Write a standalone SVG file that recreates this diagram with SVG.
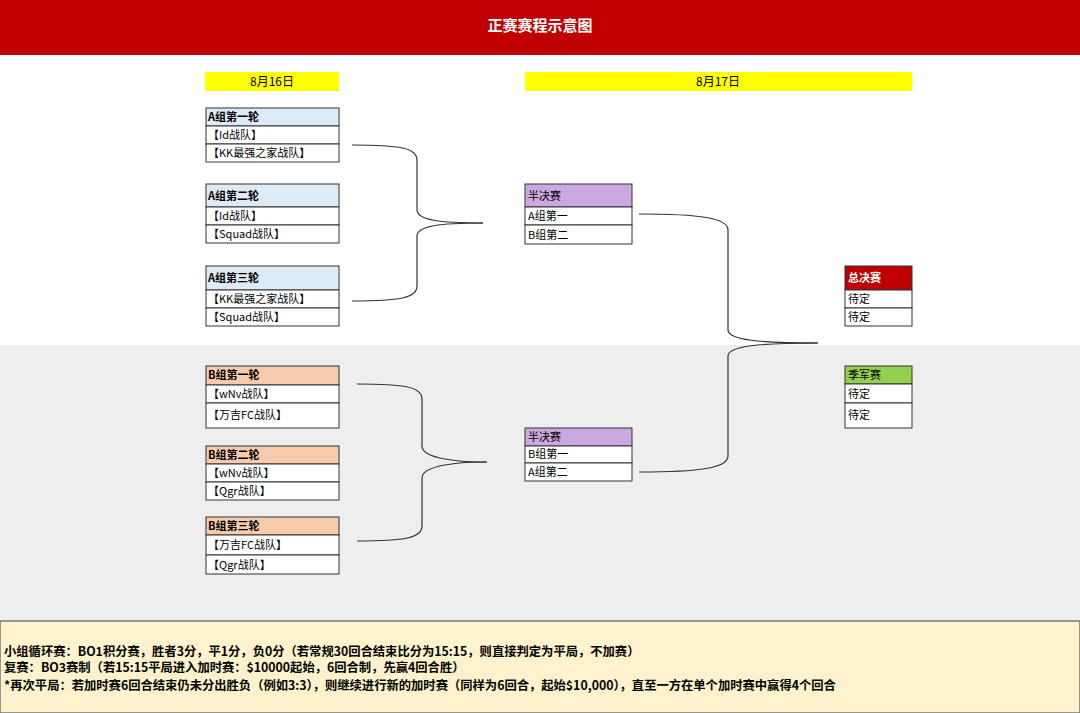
<svg xmlns="http://www.w3.org/2000/svg" width="1080" height="713" viewBox="0 0 1080 713">
<style>
text{font-family:"Microsoft YaHei","Noto Sans CJK SC",sans-serif;font-size:11px;fill:#000}
.box{stroke:#333;stroke-width:1}
.row{fill:#fff;stroke:#333;stroke-width:1}
.b{font-weight:bold}
.con{fill:none;stroke:#333;stroke-width:1.2}
.note{font-size:12.3px;font-weight:bold}
</style>
<rect x="0" y="0" width="1080" height="55" fill="#c00000"/>
<text x="540" y="31" text-anchor="middle" class="b" style="fill:#fff;font-size:15px">正赛赛程示意图</text>
<rect x="0" y="55" width="1080" height="290" fill="#fff"/>
<rect x="0" y="345" width="1080" height="276" fill="#eeeeee"/>
<rect x="0" y="621" width="1080" height="92" fill="#fff2cc" stroke="#777" stroke-width="1.5"/>
<rect x="205" y="72" width="134" height="19" fill="#ffff00"/>
<text x="272" y="86" text-anchor="middle" style="font-size:12px">8月16日</text>
<rect x="525" y="72" width="387" height="19" fill="#ffff00"/>
<text x="718" y="86" text-anchor="middle" style="font-size:12px">8月17日</text>
<g id="a1"><rect class="box" x="206" y="108" width="133" height="18" fill="#ddebf7"/><rect class="row" x="206" y="126" width="133" height="18"/><rect class="row" x="206" y="144" width="133" height="18"/>
<text x="208" y="121" class="b">A组第一轮</text><text x="208" y="139">【Id战队】</text><text x="208" y="157">【KK最强之家战队】</text></g>
<g id="a2"><rect class="box" x="206" y="184" width="133" height="23" fill="#ddebf7"/><rect class="row" x="206" y="207" width="133" height="18"/><rect class="row" x="206" y="225" width="133" height="18"/>
<text x="208" y="200" class="b">A组第二轮</text><text x="208" y="220">【Id战队】</text><text x="208" y="238">【Squad战队】</text></g>
<g id="a3"><rect class="box" x="206" y="266" width="133" height="24" fill="#ddebf7"/><rect class="row" x="206" y="290" width="133" height="18"/><rect class="row" x="206" y="308" width="133" height="18"/>
<text x="208" y="282" class="b">A组第三轮</text><text x="208" y="303">【KK最强之家战队】</text><text x="208" y="321">【Squad战队】</text></g>
<g id="b1"><rect class="box" x="206" y="366" width="133" height="19" fill="#f8cbad"/><rect class="row" x="206" y="385" width="133" height="18"/><rect class="row" x="206" y="403" width="133" height="25"/>
<text x="208" y="379" class="b">B组第一轮</text><text x="208" y="398">【wNv战队】</text><text x="208" y="419">【万吉FC战队】</text></g>
<g id="b2"><rect class="box" x="206" y="446" width="133" height="18" fill="#f8cbad"/><rect class="row" x="206" y="464" width="133" height="18"/><rect class="row" x="206" y="482" width="133" height="18"/>
<text x="208" y="459" class="b">B组第二轮</text><text x="208" y="477">【wNv战队】</text><text x="208" y="495">【Qgr战队】</text></g>
<g id="b3"><rect class="box" x="206" y="517" width="133" height="18" fill="#f8cbad"/><rect class="row" x="206" y="535" width="133" height="20"/><rect class="row" x="206" y="555" width="133" height="19"/>
<text x="208" y="530" class="b">B组第三轮</text><text x="208" y="549">【万吉FC战队】</text><text x="208" y="569">【Qgr战队】</text></g>
<g id="sa"><rect class="box" x="525" y="184" width="107" height="23" fill="#cca8e0"/><rect class="row" x="525" y="207" width="107" height="18"/><rect class="row" x="525" y="225" width="107" height="19"/>
<text x="528" y="200">半决赛</text><text x="528" y="220">A组第一</text><text x="528" y="239">B组第二</text></g>
<g id="sb"><rect class="box" x="525" y="428" width="107" height="18" fill="#cca8e0"/><rect class="row" x="525" y="446" width="107" height="17"/><rect class="row" x="525" y="463" width="107" height="18"/>
<text x="528" y="441">半决赛</text><text x="528" y="458">B组第一</text><text x="528" y="476">A组第二</text></g>
<g id="final"><rect class="box" x="845" y="266" width="67" height="24" fill="#c00000"/><rect class="row" x="845" y="290" width="67" height="18"/><rect class="row" x="845" y="308" width="67" height="18"/>
<text x="848" y="282" class="b" style="fill:#fff">总决赛</text><text x="848" y="303">待定</text><text x="848" y="321">待定</text></g>
<g id="third"><rect class="box" x="845" y="366" width="67" height="18" fill="#92d050"/><rect class="row" x="845" y="384" width="67" height="19"/><rect class="row" x="845" y="403" width="67" height="25"/>
<text x="848" y="379">季军赛</text><text x="848" y="398">待定</text><text x="848" y="419">待定</text></g>
<g id="connectors">
<path class="con" d="M352,145 C400,145 417,148 417,160 L417,210 C417,220 440,223 483,223"/>
<path class="con" d="M352,301 C400,301 417,298 417,286 L417,236 C417,226 440,223 483,223"/>
<path class="con" d="M357,384 C405,384 422,387 422,399 L422,446 C422,456 445,462 487,462"/>
<path class="con" d="M357,541 C405,541 422,538 422,526 L422,478 C422,468 445,462 487,462"/>
<path class="con" d="M639,214 C700,214 728,218 728,230 L728,330 C728,340 760,343 818,343"/>
<path class="con" d="M639,472 C700,472 728,468 728,456 L728,356 C728,346 760,343 818,343"/>
</g>
<g id="notes">
<text x="4" y="656" class="note">小组循环赛：BO1积分赛，胜者3分，平1分，负0分（若常规30回合结束比分为15:15，则直接判定为平局，不加赛）</text>
<text x="4" y="672" class="note">复赛：BO3赛制（若15:15平局进入加时赛：$10000起始，6回合制，先赢4回合胜）</text>
<text x="4" y="690" class="note">*再次平局：若加时赛6回合结束仍未分出胜负（例如3:3），则继续进行新的加时赛（同样为6回合，起始$10,000），直至一方在单个加时赛中赢得4个回合</text>
</g>
</svg>
